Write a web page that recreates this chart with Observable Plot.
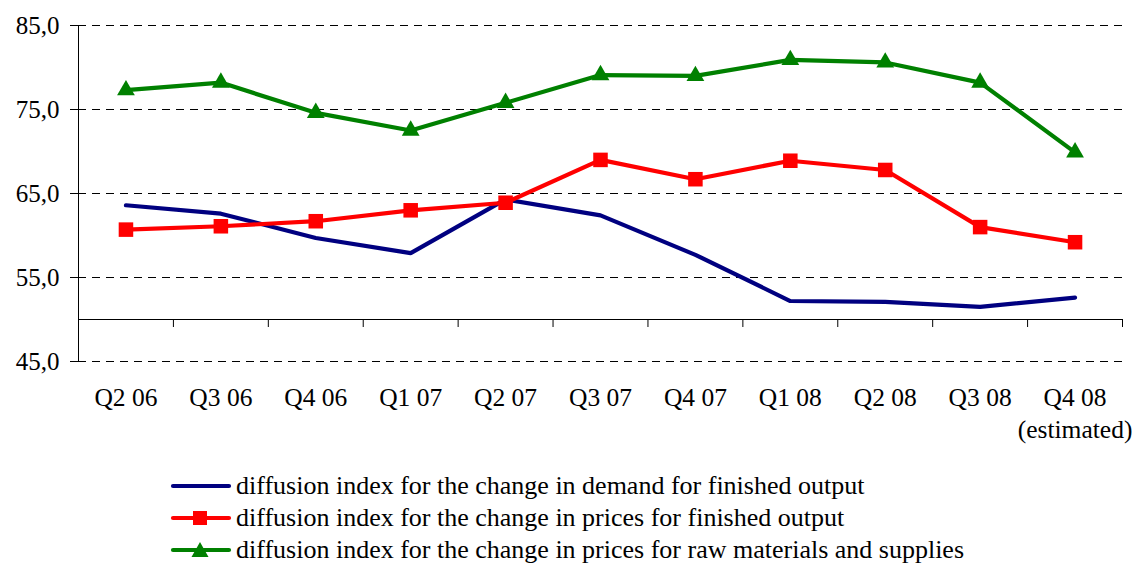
<!DOCTYPE html>
<html><head><meta charset="utf-8">
<script src="https://cdn.jsdelivr.net/npm/d3@7"></script>
<script src="https://cdn.jsdelivr.net/npm/@observablehq/plot@0.6"></script>
<style>
body{margin:0;background:#fff;font-family:"Liberation Serif","Times New Roman",serif;color:#000;}
#wrap{position:relative;width:1136px;height:566px;overflow:hidden;}
#legend{position:absolute;left:170px;top:470px;}
.row{display:flex;align-items:center;height:32px;font-size:26px;line-height:32px;white-space:nowrap;}
.row svg{margin-right:4px;}
</style></head><body><div id="wrap"><div id="chart"></div><div id="legend"></div></div>
<script>
const quarters = ["Q2 06","Q3 06","Q4 06","Q1 07","Q2 07","Q3 07","Q4 07","Q1 08","Q2 08","Q3 08","Q4 08"];
const xTickLabels = ["Q2 06","Q3 06","Q4 06","Q1 07","Q2 07","Q3 07","Q4 07","Q1 08","Q2 08","Q3 08","Q4 08\n(estimated)"];
const demand = [63.6, 62.6, 59.7, 57.9, 64.3, 62.4, 57.7, 52.2, 52.1, 51.5, 52.6];
const pricesOutput = [60.7, 61.1, 61.7, 63.0, 63.9, 69.0, 66.7, 68.9, 67.8, 61.0, 59.2];
const pricesRaw = [77.3, 78.2, 74.6, 72.5, 75.8, 79.1, 79.0, 80.9, 80.6, 78.2, 69.9];
const yTicks = [45, 55, 65, 75, 85];
const axisCross = 50;
const seriesNames = [
  "diffusion index for the change in demand for finished output",
  "diffusion index for the change in prices for finished output",
  "diffusion index for the change in prices for raw materials and supplies"
];
const seriesColors = ["#000080", "#ff0000", "#008000"];
const seriesSymbols = [null, "square", "triangle"];

const seriesValues = [demand, pricesOutput, pricesRaw];
const rows = seriesValues.flatMap((vals, s) => vals.map((v, i) => ({series: s, pos: i + 0.5, q: quarters[i], value: v})));
const centers = quarters.map((q, i) => i + 0.5);
const boundaries = d3.range(quarters.length + 1);

const W = 1136, H = 460, mt = 25, mb = 99, ml = 78, mr = 14;

const marks = [
  Plot.gridY(yTicks, {stroke: "#000", strokeOpacity: 1, strokeWidth: 1, strokeDasharray: "8,6"}),
  Plot.axisY(yTicks, {label: null, tickSize: 8, tickPadding: 11, fontSize: 25, tickFormat: d => d.toFixed(1).replace(".", ","), stroke: "#000"}),
  Plot.ruleX([0], {stroke: "#000", strokeWidth: 1}),
  Plot.ruleY([axisCross], {stroke: "#000", strokeWidth: 1}),
  Plot.ruleX(boundaries, {x: d => d, y1: axisCross, y2: axisCross, insetBottom: -8, stroke: "#000", strokeWidth: 1}),
  Plot.axisX(centers, {label: null, tickSize: 0, tickPadding: 22, fontSize: 25.5, lineHeight: 1.26, tickFormat: (d, i) => xTickLabels[i]}),
];
seriesValues.forEach((vals, s) => {
  const data = rows.filter(r => r.series === s);
  marks.push(Plot.line(data, {x: "pos", y: "value", stroke: seriesColors[s], strokeWidth: 4.2, strokeLinejoin: "miter"}));
  if (seriesSymbols[s]) {
    marks.push(Plot.dot(data, {x: "pos", y: "value", symbol: seriesSymbols[s], fill: seriesColors[s], stroke: "none", r: s === 1 ? 8.2 : 6.6}));
  }
});

const chart = Plot.plot({
  width: W, height: H,
  marginTop: mt, marginBottom: mb, marginLeft: ml, marginRight: mr,
  style: {fontFamily: "'Liberation Serif','Times New Roman',serif", color: "#000", background: "#fff", overflow: "visible"},
  x: {type: "linear", domain: [0, quarters.length], axis: null},
  y: {domain: [yTicks[0], yTicks[yTicks.length - 1]], axis: null},
  marks
});
document.getElementById("chart").append(chart);

const legend = document.getElementById("legend");
seriesNames.forEach((name, s) => {
  const row = document.createElement("div");
  row.className = "row";
  const c = seriesColors[s];
  let marker = "";
  if (seriesSymbols[s] === "square") marker = `<rect x="23" y="9" width="14" height="14" fill="${c}"/>`;
  if (seriesSymbols[s] === "triangle") marker = `<path d="M30,8 L38.5,23 L21.5,23 Z" fill="${c}"/>`;
  row.innerHTML = `<svg width="62" height="32"><line x1="3" x2="59" y1="16" y2="16" stroke="${c}" stroke-width="4.2" stroke-linecap="round"/>${marker}</svg><span>${name}</span>`;
  legend.append(row);
});
</script></body></html>
